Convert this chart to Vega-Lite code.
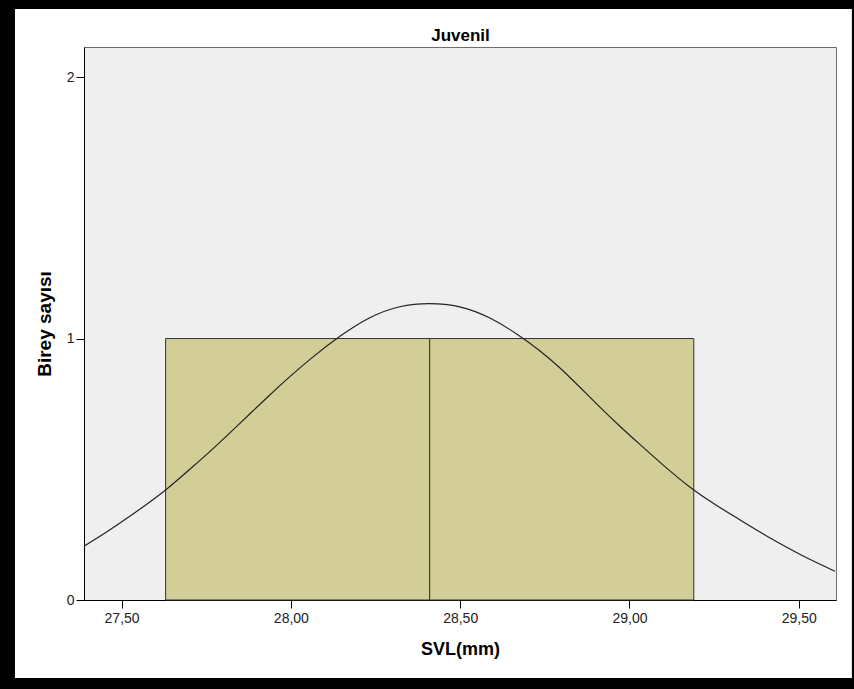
{
  "$schema": "https://vega.github.io/schema/vega-lite/v6.json",
  "width": 752,
  "height": 553,
  "autosize": {"type": "none"},
  "padding": {"left": 84, "top": 47, "right": 18, "bottom": 89},
  "background": "white",
  "config": {
    "view": {"fill": "#EFEFEF", "stroke": "#6E6E6E", "strokeWidth": 1},
    "axis": {
      "grid": false,
      "domainColor": "black",
      "domainWidth": 1,
      "tickColor": "black",
      "tickWidth": 1,
      "tickSize": 8,
      "labelFont": "Liberation Sans",
      "labelFontSize": 14,
      "labelColor": "#222222",
      "titleFont": "Liberation Sans",
      "titleFontWeight": "bold",
      "titleColor": "black"
    }
  },
  "datasets": {
    "bins": [
      {"bin_start": 27.63, "bin_end": 28.41, "count": 1},
      {"bin_start": 28.41, "bin_end": 29.19, "count": 1}
    ],
    "normal_curve": [
      {"svl": 27.392, "density": 0.208},
      {"svl": 27.451, "density": 0.255},
      {"svl": 27.510, "density": 0.307},
      {"svl": 27.570, "density": 0.362},
      {"svl": 27.631, "density": 0.420},
      {"svl": 27.702, "density": 0.500},
      {"svl": 27.776, "density": 0.585},
      {"svl": 27.849, "density": 0.675},
      {"svl": 27.938, "density": 0.785},
      {"svl": 27.997, "density": 0.855},
      {"svl": 28.056, "density": 0.921},
      {"svl": 28.145, "density": 1.011},
      {"svl": 28.233, "density": 1.085},
      {"svl": 28.322, "density": 1.127},
      {"svl": 28.408, "density": 1.137},
      {"svl": 28.499, "density": 1.127},
      {"svl": 28.588, "density": 1.083},
      {"svl": 28.676, "density": 1.011},
      {"svl": 28.735, "density": 0.955},
      {"svl": 28.794, "density": 0.890},
      {"svl": 28.853, "density": 0.815},
      {"svl": 28.912, "density": 0.738},
      {"svl": 28.971, "density": 0.665},
      {"svl": 29.030, "density": 0.596},
      {"svl": 29.104, "density": 0.510},
      {"svl": 29.178, "density": 0.430},
      {"svl": 29.252, "density": 0.365},
      {"svl": 29.326, "density": 0.307},
      {"svl": 29.400, "density": 0.248},
      {"svl": 29.474, "density": 0.195},
      {"svl": 29.540, "density": 0.150},
      {"svl": 29.607, "density": 0.110}
    ]
  },
  "resolve": {"axis": {"x": "independent", "y": "independent"}},
  "layer": [
    {
      "data": {"name": "bins"},
      "mark": {"type": "rect", "fill": "#D3CE98", "stroke": "#333333", "strokeWidth": 1},
      "encoding": {
        "x": {
          "field": "bin_start",
          "type": "quantitative",
          "scale": {"domain": [27.389, 29.61], "nice": false, "zero": false},
          "axis": {
            "orient": "bottom",
            "values": [27.5, 28, 28.5, 29, 29.5],
            "labelExpr": "replace(format(datum.value, '.2f'), '.', ',')",
            "labelPadding": 3,
            "title": "SVL(mm)",
            "titleFontSize": 18,
            "titlePadding": 15
          }
        },
        "x2": {"field": "bin_end"},
        "y": {
          "field": "count",
          "type": "quantitative",
          "scale": {"domain": [0, 2.115], "nice": false, "zero": true},
          "axis": {
            "orient": "left",
            "values": [0, 1, 2],
            "labelExpr": "datum.value",
            "labelOverlap": false,
            "labelPadding": 2,
            "title": "Birey sayısı",
            "titleFontSize": 19,
            "titlePadding": 12
          }
        },
        "y2": {"datum": 0}
      }
    },
    {
      "data": {"name": "normal_curve"},
      "mark": {"type": "line", "color": "#222222", "strokeWidth": 1.2, "interpolate": "basis"},
      "encoding": {
        "x": {
          "field": "svl",
          "type": "quantitative",
          "axis": {
            "orient": "top",
            "domain": false,
            "ticks": false,
            "labels": false,
            "title": "Juvenil",
            "titleFontSize": 17,
            "titlePadding": 3
          }
        },
        "y": {"field": "density", "type": "quantitative", "axis": null}
      }
    },
    {
      "data": {"values": [{}]},
      "mark": {"type": "rect", "filled": false, "stroke": "black", "strokeWidth": 40, "clip": false},
      "encoding": {
        "x": {"datum": 27.126, "type": "quantitative", "axis": null},
        "x2": {"datum": 29.716},
        "y": {"datum": 2.337, "type": "quantitative", "axis": null},
        "y2": {"datum": -0.375}
      }
    }
  ]
}
